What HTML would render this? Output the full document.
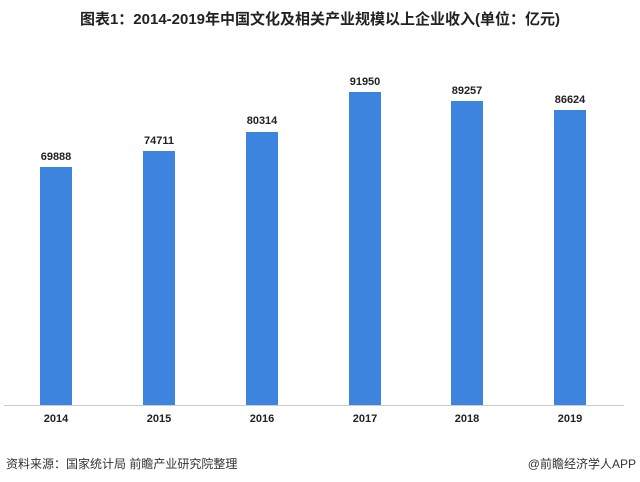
<!DOCTYPE html>
<html><head><meta charset="utf-8"><style>
body{margin:0;width:640px;height:482px;background:#fff;overflow:hidden;position:relative;font-family:"Liberation Sans","Noto Sans CJK SC",sans-serif}
.t{position:absolute;left:0;width:640px;top:8px;text-align:center;font-size:15px;font-weight:bold;color:#222}
.b{position:absolute;width:32px;background:#3d84de}
.v,.y{position:absolute;width:80px;text-align:center;font-size:11px;font-weight:bold;color:#222}
.ax{position:absolute;left:4px;width:620px;top:405px;height:1px;background:#ccc}
.f{position:absolute;top:455px;font-size:12px;color:#333}
</style></head><body>
<div class="t">图表1：2014-2019年中国文化及相关产业规模以上企业收入(单位：亿元)</div>
<div class="ax"></div>
<div class="b" style="left:40px;top:167px;height:238px"></div>
<div class="b" style="left:143px;top:151px;height:254px"></div>
<div class="b" style="left:246px;top:132px;height:273px"></div>
<div class="b" style="left:349px;top:92px;height:313px"></div>
<div class="b" style="left:451px;top:101px;height:304px"></div>
<div class="b" style="left:554px;top:110px;height:295px"></div>
<div class="v" style="left:16px;top:151px">69888</div>
<div class="v" style="left:119px;top:135px">74711</div>
<div class="v" style="left:222px;top:115px">80314</div>
<div class="v" style="left:325px;top:76px">91950</div>
<div class="v" style="left:427px;top:85px">89257</div>
<div class="v" style="left:530px;top:94px">86624</div>
<div class="y" style="left:16px;top:413px">2014</div>
<div class="y" style="left:119px;top:413px">2015</div>
<div class="y" style="left:222px;top:413px">2016</div>
<div class="y" style="left:325px;top:413px">2017</div>
<div class="y" style="left:427px;top:413px">2018</div>
<div class="y" style="left:530px;top:413px">2019</div>
<div class="f" style="left:6px">资料来源：国家统计局 前瞻产业研究院整理</div>
<div class="f" style="right:4px">@前瞻经济学人APP</div>
</body></html>
